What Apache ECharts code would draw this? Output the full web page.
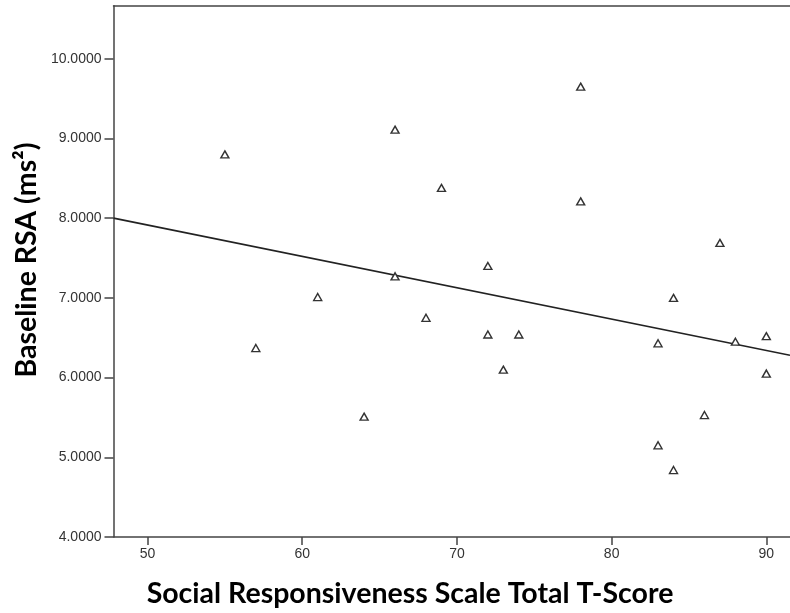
<!DOCTYPE html>
<html><head><meta charset="utf-8">
<script src="https://cdn.jsdelivr.net/npm/echarts@6/dist/echarts.min.js"></script>
<style>html,body{margin:0;padding:0;background:#fff}#c{width:790px;height:613px}</style>
</head><body><div id="c"></div>
<script>
const srsScores = [55, 57, 61, 64, 66, 66, 68, 69, 72, 72, 73, 74, 78, 78, 83, 83, 84, 84, 86, 87, 88, 90, 90];
const rsaValues = [8.80, 6.37, 7.01, 5.51, 9.11, 7.27, 6.75, 8.38, 7.40, 6.54, 6.10, 6.54, 9.65, 8.21, 6.43, 5.15, 7.00, 4.84, 5.53, 7.69, 6.45, 6.52, 6.05];
const fitX = [47.8, 91.53];
const fitY = [8.00, 6.28];
const xTicks = [50, 60, 70, 80, 90];
const yTicks = [4, 5, 6, 7, 8, 9, 10];
const xTitle = 'Social Responsiveness Scale Total T-Score';
const yTitle = 'Baseline RSA (ms²)';

const chart = echarts.init(document.getElementById('c'), null, {renderer: 'canvas'});
const axisCol = '#444';
const labelFont = {color: '#333', fontFamily: 'Liberation Sans', fontSize: 14};
chart.setOption({
  animation: false,
  backgroundColor: '#fff',
  grid: {left: 113.5, right: 0, top: 5.7, bottom: 76},
  xAxis: [{
    type: 'value', min: 47.8, max: 91.53, position: 'bottom',
    splitLine: {show: false},
    axisLine: {show: true, lineStyle: {color: axisCol, width: 1.5}},
    axisTick: {show: true, length: 8, customValues: xTicks, lineStyle: {color: axisCol, width: 1.5}},
    axisLabel: Object.assign({customValues: xTicks, margin: 10}, labelFont)
  }, {
    type: 'value', min: 47.8, max: 91.53, position: 'top',
    splitLine: {show: false},
    axisLine: {show: true, lineStyle: {color: axisCol, width: 1.5}},
    axisTick: {show: false}, axisLabel: {show: false}
  }],
  yAxis: {
    type: 'value', min: 4, max: 10.665,
    splitLine: {show: false},
    axisLine: {show: true, lineStyle: {color: axisCol, width: 1.5}},
    axisTick: {show: true, length: 9, customValues: yTicks, lineStyle: {color: axisCol, width: 1.5}},
    axisLabel: Object.assign({customValues: yTicks, margin: 12, formatter: v => v.toFixed(4)}, labelFont)
  },
  series: [{
    type: 'scatter',
    data: srsScores.map((x, i) => [x, rsaValues[i]]),
    symbol: 'triangle', symbolSize: [8, 7],
    itemStyle: {color: '#fff', borderColor: '#333', borderWidth: 1.4, opacity: 1},
    z: 3
  }, {
    type: 'line',
    data: fitX.map((x, i) => [x, fitY[i]]),
    showSymbol: false, symbol: 'none',
    lineStyle: {color: '#222', width: 1.6},
    z: 2
  }],
  graphic: [{
    type: 'text', x: 410, y: 594,
    style: {text: xTitle, fontFamily: 'Lato', fontWeight: 'bold', fontSize: 28.5, fill: '#000',
      textAlign: 'center', textVerticalAlign: 'middle'}
  }, {
    type: 'text', x: 27, y: 260, rotation: Math.PI / 2,
    style: {text: yTitle, fontFamily: 'Lato', fontWeight: 'bold', fontSize: 28.5, fill: '#000',
      textAlign: 'center', textVerticalAlign: 'middle'}
  }]
});
</script></body></html>
